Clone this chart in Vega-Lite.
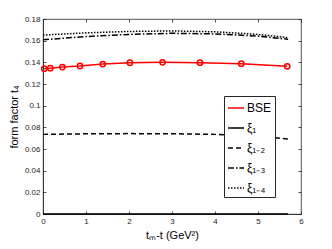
{
  "$schema": "https://vega.github.io/schema/vega-lite/v6.json",
  "width": 258,
  "height": 195,
  "autosize": {"type": "none"},
  "padding": {"left": 43, "top": 19, "right": 31, "bottom": 35},
  "background": "white",
  "config": {
    "view": {"stroke": "#262626", "strokeWidth": 0.8},
    "font": "Liberation Sans",
    "axis": {"grid": false, "domainColor": "#262626", "tickColor": "#262626", "labelColor": "#262626", "titleColor": "#000000", "labelFont": "Liberation Sans", "titleFont": "Liberation Sans", "labelFontSize": 8, "titleFontSize": 11, "titleFontWeight": "normal", "tickSize": -3, "labelPadding": 6, "domainWidth": 0.8, "tickWidth": 0.8, "labelOverlap": false, "labelFlush": false, "labelBound": false}
  },
  "resolve": {"axis": {"x": "independent", "y": "independent"}},
  "datasets": {
    "bse": [
      {"x": 0.03, "y": 0.1341}, {"x": 0.17, "y": 0.1346}, {"x": 0.45, "y": 0.1356},
      {"x": 0.86, "y": 0.1366}, {"x": 1.39, "y": 0.1384}, {"x": 2.02, "y": 0.1396},
      {"x": 2.78, "y": 0.1400}, {"x": 3.65, "y": 0.1397}, {"x": 4.61, "y": 0.1388},
      {"x": 5.68, "y": 0.1363}
    ],
    "lines": [
      {"s": "ξ₁", "x": 0, "y": 0}, {"s": "ξ₁", "x": 5.7, "y": 0},
      {"s": "ξ₁₋₂", "x": 0, "y": 0.0735}, {"s": "ξ₁₋₂", "x": 1, "y": 0.0740}, {"s": "ξ₁₋₂", "x": 2, "y": 0.0742}, {"s": "ξ₁₋₂", "x": 3, "y": 0.0741}, {"s": "ξ₁₋₂", "x": 4, "y": 0.0735}, {"s": "ξ₁₋₂", "x": 5, "y": 0.0716}, {"s": "ξ₁₋₂", "x": 5.7, "y": 0.0693},
      {"s": "ξ₁₋₃", "x": 0, "y": 0.1608}, {"s": "ξ₁₋₃", "x": 1, "y": 0.1638}, {"s": "ξ₁₋₃", "x": 2, "y": 0.1658}, {"s": "ξ₁₋₃", "x": 3, "y": 0.1668}, {"s": "ξ₁₋₃", "x": 4, "y": 0.1662}, {"s": "ξ₁₋₃", "x": 5, "y": 0.1642}, {"s": "ξ₁₋₃", "x": 5.7, "y": 0.1613},
      {"s": "ξ₁₋₄", "x": 0, "y": 0.1652}, {"s": "ξ₁₋₄", "x": 1, "y": 0.1672}, {"s": "ξ₁₋₄", "x": 2, "y": 0.1685}, {"s": "ξ₁₋₄", "x": 3, "y": 0.1690}, {"s": "ξ₁₋₄", "x": 4, "y": 0.1682}, {"s": "ξ₁₋₄", "x": 5, "y": 0.1658}, {"s": "ξ₁₋₄", "x": 5.7, "y": 0.1628}
    ],
    "legend": [
      {"s": "BSE"}, {"s": "ξ₁"}, {"s": "ξ₁₋₂"}, {"s": "ξ₁₋₃"}, {"s": "ξ₁₋₄"}
    ]
  },
  "layer": [
    {
      "data": {"name": "lines"},
      "mark": {"type": "line", "strokeWidth": 1.5, "clip": false},
      "encoding": {
        "x": {"field": "x", "type": "quantitative", "scale": {"domain": [0, 6], "nice": false, "zero": false}, "axis": {"values": [0, 1, 2, 3, 4, 5, 6], "title": "tₘ-t (GeV²)", "titlePadding": 4, "format": "~g"}},
        "y": {"field": "y", "type": "quantitative", "scale": {"domain": [0, 0.18], "nice": false}, "axis": {"values": [0, 0.02, 0.04, 0.06, 0.08, 0.1, 0.12, 0.14, 0.16, 0.18], "title": "form factor t₄", "format": "~g", "titlePadding": 5}},
        "detail": {"field": "s"},
        "color": {"field": "s", "type": "nominal", "scale": {"domain": ["BSE", "ξ₁", "ξ₁₋₂", "ξ₁₋₃", "ξ₁₋₄"], "range": ["#ff0000", "#000000", "#000000", "#000000", "#000000"]}, "legend": {"title": null, "orient": "none", "legendX": 181, "legendY": 77, "symbolType": "stroke", "symbolSize": 256, "symbolStrokeWidth": 1.5, "labelFontSize": 12, "labelFont": "Liberation Sans", "labelColor": "#000000", "strokeColor": "#262626", "fillColor": "white", "padding": 3, "rowPadding": 5, "labelOffset": 2}},
        "strokeDash": {"field": "s", "type": "nominal", "scale": {"domain": ["BSE", "ξ₁", "ξ₁₋₂", "ξ₁₋₃", "ξ₁₋₄"], "range": [[1, 0], [1, 0], [5, 3], [6, 2, 1.5, 2], [1.5, 1.5]]}, "legend": null}
      }
    },
    {
      "data": {"name": "bse"},
      "mark": {"type": "line", "color": "#ff0000", "strokeWidth": 1.5, "point": {"filled": false, "color": "#ff0000", "size": 28, "strokeWidth": 1.5}},
      "encoding": {
        "x": {"field": "x", "type": "quantitative", "axis": {"orient": "top", "values": [0, 1, 2, 3, 4, 5, 6], "labels": false, "title": null, "domain": false}},
        "y": {"field": "y", "type": "quantitative", "axis": {"orient": "right", "values": [0, 0.02, 0.04, 0.06, 0.08, 0.1, 0.12, 0.14, 0.16, 0.18], "labels": false, "title": null, "domain": false}}
      }
    },
    {
      "data": {"name": "legend"},
      "mark": {"type": "point", "opacity": 0},
      "encoding": {
        "color": {"field": "s", "type": "nominal"}
      }
    }
  ]
}
